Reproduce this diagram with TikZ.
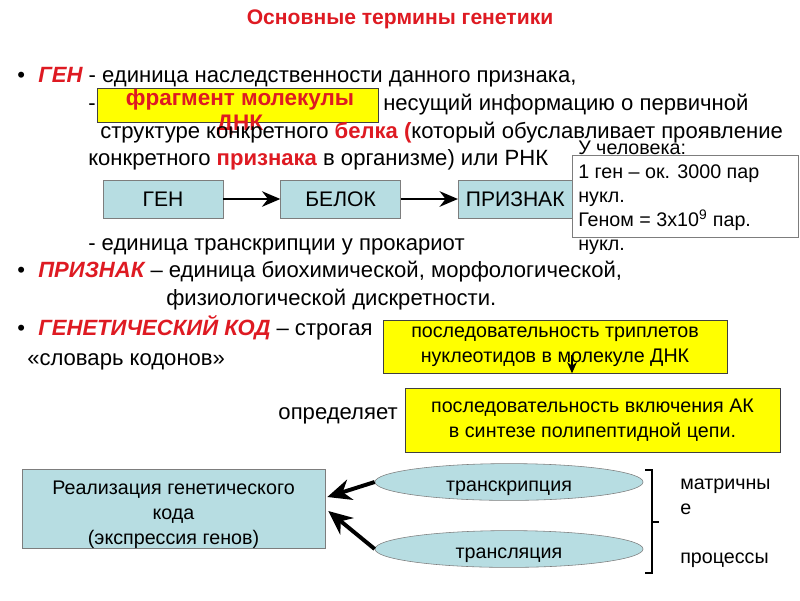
\documentclass[tikz,border=0pt]{standalone}
\usepackage{fontspec}
\setmainfont{Liberation Sans}
\usetikzlibrary{arrows.meta,shapes.geometric,positioning,calc}
\definecolor{termred}{RGB}{222,26,34}
\definecolor{flowblue}{RGB}{183,221,226}
\definecolor{boxgray}{RGB}{125,125,125}
\definecolor{hlyellow}{RGB}{255,255,0}
\newcommand{\termw}[1]{\textcolor{termred}{\bfseries\itshape #1}}
\newcommand{\keyw}[1]{\textcolor{termred}{\bfseries #1}}

\begin{document}
\begin{tikzpicture}[
    x=0.025cm, y=-0.025cm,
    txt/.style={anchor=base west, inner sep=0pt, font=\fontsize{15.7}{19}\selectfont},
    flow/.style={draw=boxgray, fill=flowblue, minimum width=3cm, minimum height=0.95cm,
                 align=center, font=\fontsize{15}{17.5}\selectfont},
    ybox/.style={draw=black!75, fill=hlyellow, align=center, inner sep=0pt,
                 font=\fontsize{14}{17.5}\selectfont},
    proc/.style={ellipse, draw=boxgray, fill=flowblue, minimum width=6.7cm,
                 minimum height=0.92cm, inner sep=0pt, text height=14pt, text depth=0pt,
                 font=\fontsize{14}{17}\selectfont},
    arr/.style={-{Stealth[length=13pt,width=11pt]}, line width=1.8pt},
    thinarr/.style={-{Stealth[length=8pt,width=7pt]}, line width=0.8pt},
    bigarr/.style={-{Stealth[length=17pt,width=15pt]}, line width=2.8pt}
]
\useasboundingbox (0,0) rectangle (800,600);

% title
\node[txt, anchor=base, font=\fontsize{15}{18}\selectfont\bfseries, text=termred] (title) at (400,24) {Основные термины генетики};

% ген
\node[txt] (bul1) at (17,82) {•};
\node[txt] (gen1) at (38,82) {\termw{ГЕН} - единица наследственности данного признака,};
\node[txt] (gen2) at (88,110) {-};
\node[ybox, minimum width=7.025cm, minimum height=0.85cm] (frag) at (237.5,105) {};
\node[txt, anchor=north, align=center, font=\fontsize{16}{17.8}\selectfont\bfseries, text=termred] (fragtxt) at (240,89) {фрагмент молекулы\\ДНК};
\node[txt] (gen3) at (383,110) {несущий информацию о первичной};
\node[txt] (gen4) at (100,138) {структуре конкретного \keyw{белка (}который обуславливает проявление};
\node[txt] (gen5) at (88,165) {конкретного \keyw{признака} в организме) или РНК};

% ген -> белок -> признак
\node[flow] (fgen) at (163,199) {ГЕН};
\node[flow, right=1.425cm of fgen] (fbel) {БЕЛОК};
\node[flow, right=1.425cm of fbel, minimum width=2.85cm] (fpriz) {ПРИЗНАК};
\draw[arr] (fgen) -- (fbel);
\draw[arr] (fbel) -- (fpriz);

% у человека
\node[draw=boxgray, fill=white, minimum width=5.65cm, minimum height=2.05cm] (human) at (685,196) {};
\node[txt, anchor=north west, align=left, font=\fontsize{14}{17}\selectfont] (humantxt) at (578,141)
  {У человека:\\1 ген – ок. 3000 пар\\нукл.\\Геном = 3x10\textsuperscript{9} пар.\\нукл.};

\node[txt] (gen6) at (88,250) {- единица транскрипции у прокариот};

% признак
\node[txt] (bul2) at (17,277) {•};
\node[txt] (priz1) at (38,277) {\termw{ПРИЗНАК} – единица биохимической, морфологической,};
\node[txt] (priz2) at (166,305) {физиологической дискретности.};

% генетический код
\node[txt] (bul3) at (17,335) {•};
\node[txt] (kod1) at (38,335) {\termw{ГЕНЕТИЧЕСКИЙ КОД} – строгая};
\node[txt] (kod2) at (27,365) {«словарь кодонов»};
\node[ybox, minimum width=8.6cm, minimum height=1.325cm] (trip) at (555,346.5)
  {последовательность триплетов\\нуклеотидов в молекуле ДНК};
\node[ybox, minimum width=9.375cm, minimum height=1.6cm] (incl) at (592.5,420)
  {последовательность включения АК\\в синтезе полипептидной цепи.};
\node[txt, anchor=base east] (opr) at (398,419) {определяет};
\draw[thinarr] ($(trip.south)+(17,-18)$) -- ($(trip.south)+(17,0)$ |- incl.north);

% реализация
\node[flow, minimum width=7.575cm, minimum height=1.975cm] (real) at (173.5,509) {};
\node[txt, anchor=north, align=center, font=\fontsize{14}{17.5}\selectfont] (realtxt) at (173.5,481)
  {Реализация генетического\\кода\\(экспрессия генов)};
\node[proc] (transc) at (509,482) {транскрипция};
\node[proc] (transl) at (509,549) {трансляция};
\draw[bigarr] (transc.west) -- ($(real.east)+(2,-12)$);
\draw[bigarr] (transl.west) -- ($(real.east)+(3,2)$);

\draw[line width=1.2pt] (645,470) -- (652,470) -- (652,573) -- (645,573);
\draw[line width=1.2pt] (652,522) -- (659,522);
\node[txt, align=left, anchor=north west, font=\fontsize{14}{17.5}\selectfont] (matr) at (680,479) {матричны\\е};
\node[txt, font=\fontsize{14}{17}\selectfont] (procs) at (680,563) {процессы};
\end{tikzpicture}
\end{document}
